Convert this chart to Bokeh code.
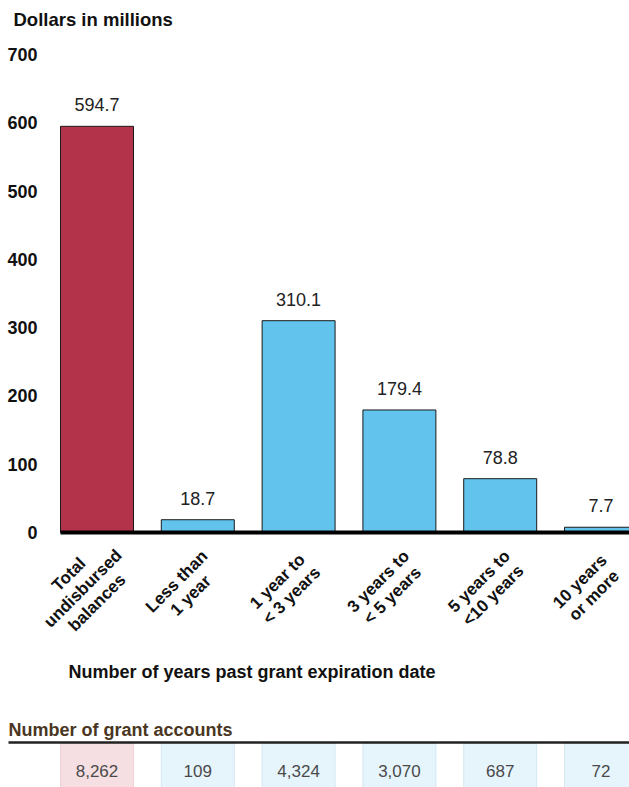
import math
from bokeh.plotting import figure
from bokeh.models import ColumnDataSource, Range1d, FixedTicker
from bokeh.core.properties import value
from bokeh.embed import file_html
from bokeh.resources import INLINE

# ---- data ----
categories = ["Total\nundisbursed\nbalances", "Less than\n1 year", "1 year to\n< 3 years",
              "3 years to\n< 5 years", "5 years to\n<10 years", "10 years\nor more"]
balances = [594.7, 18.7, 310.1, 179.4, 78.8, 7.7]
grant_accounts = [8262, 109, 4324, 3070, 687, 72]
y_ticks = [0, 100, 200, 300, 400, 500, 600, 700]

y_title = "Dollars in millions"
x_title = "Number of years past grant expiration date"
table_title = "Number of grant accounts"

# ---- styles / layout ----
FONT = "Liberation Sans"
RED = "#b3334a"
BLUE = "#62c3ec"
bar_colors = [RED] + [BLUE] * (len(categories) - 1)
cell_fill = ["#f6dfe3"] + ["#e6f4fc"] * (len(categories) - 1)
cell_line = ["#efd2d7"] + ["#d3e7f3"] * (len(categories) - 1)

W = 629
H = 787
AXIS_PX = 55        # px where the value axis sits
TOP = 40
STEP = 100.8        # px per category
FIRST = 96.5        # px centre of first category
PX_PER_UNIT = 0.683 # px per million dollars
ZERO_PX = 532       # px of y = 0
BAR_W = 0.724


def px_x(px):
    return (px - FIRST) / STEP


def px_y(py):
    return (ZERO_PX - py) / PX_PER_UNIT


xpos = list(range(len(categories)))

x_start = px_x(0)
x_end = px_x(W)
y_end = px_y(TOP)
y_start = px_y(H)

src = ColumnDataSource(dict(
    x=xpos,
    value=balances,
    color=bar_colors,
    vlabel=[f"{v:.1f}" for v in balances],
    cat=categories,
    catx=[i - 14 / STEP for i in xpos],
    caty=[px_y(588)] * len(categories),
    fill=cell_fill,
    line=cell_line,
    count=[f"{n:,}" for n in grant_accounts],
))

p = figure(width=W, height=H, title=y_title,
           x_range=Range1d(x_start, x_end), y_range=Range1d(y_start, y_end),
           output_backend="svg", toolbar_location=None, x_axis_location=None,
           min_border_left=0, min_border_right=0, min_border_top=TOP, min_border_bottom=0)
p.title.text_font = FONT
p.title.text_font_size = "18.5px"
p.title.text_font_style = "bold"
p.title.text_color = "#111111"
p.title.align = "left"
p.title.vertical_align = "top"
p.title.offset = 13
p.title.standoff = 17

p.yaxis.fixed_location = px_x(AXIS_PX)
p.yaxis.ticker = FixedTicker(ticks=y_ticks)
p.yaxis.axis_line_color = None
p.yaxis.major_tick_line_color = None
p.yaxis.minor_tick_line_color = None
p.yaxis.major_label_text_font = FONT
p.yaxis.major_label_text_font_size = "18px"
p.yaxis.major_label_text_font_style = "bold"
p.yaxis.major_label_text_color = "#111111"
p.yaxis.major_label_standoff = 12
p.grid.visible = False
p.outline_line_color = None

# bars and baseline
p.vbar(x="x", top="value", bottom=0, width=BAR_W, fill_color="color",
       line_color="#1a1a1a", line_width=1, source=src)
p.segment(x0=[xpos[0] - BAR_W / 2], x1=[x_end], y0=[0], y1=[0],
          line_color="#000000", line_width=4)

# value labels
p.text(x="x", y="value", text="vlabel", source=src, text_align="center",
       text_baseline="bottom", y_offset=-15, text_font=value(FONT),
       text_font_size="18px", text_color="#222222")

# rotated category labels
p.text(x="catx", y="caty", text="cat", source=src, angle=math.pi / 4,
       text_align="center", text_baseline="middle", text_font=value(FONT),
       text_font_size="17px", text_font_style="bold", text_color="#111111",
       text_line_height=1.05)

# x title
p.text(x=[px_x(68)], y=[px_y(671)], text=[x_title],
       text_align="left", text_baseline="middle", text_font=value(FONT),
       text_font_size="18px", text_font_style="bold", text_color="#111111")

# ---- table of grant accounts ----
cell_h = (790 - 743) / PX_PER_UNIT
p.rect(x="x", y=px_y((743 + 790) / 2), width=BAR_W, height=cell_h,
       fill_color="fill", line_color="line", line_width=1, source=src)
p.text(x="x", y=px_y(770), text="count", source=src, text_align="center",
       text_baseline="middle", text_font=value(FONT), text_font_size="17px",
       text_color="#4a4a4a")
p.segment(x0=[px_x(8)], x1=[x_end], y0=[px_y(742)], y1=[px_y(742)],
          line_color="#222222", line_width=2.5)
p.text(x=[px_x(8)], y=[px_y(729.5)], text=[table_title], text_align="left",
       text_baseline="middle", text_font=value(FONT), text_font_size="18px",
       text_font_style="bold", text_color="#4a3622")

open("out.html", "w").write(file_html(p, INLINE))
